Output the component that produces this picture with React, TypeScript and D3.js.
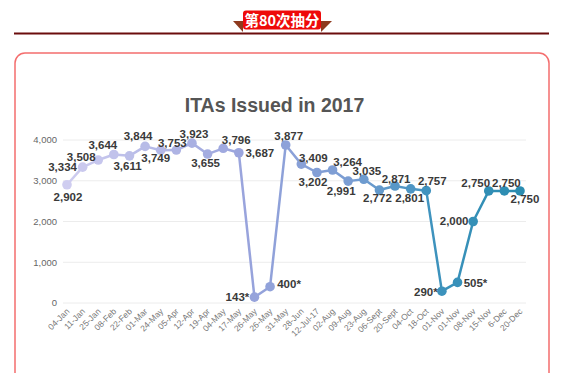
import React from 'react';
import * as d3 from 'd3';

// draw dates (x axis) and invitations issued
const dates = [
  '04-Jan', '11-Jan', '25-Jan', '08-Feb', '22-Feb', '01-Mar', '24-May', '05-Apr', '12-Apr', '19-Apr',
  '04-May', '17-May', '26-May', '26-May', '31-May', '28-Jun', '12-Jul-17', '02-Aug', '09-Aug', '23-Aug',
  '06-Sept', '20-Sept', '04-Oct', '18-Oct', '01-Nov', '01-Nov', '08-Nov', '15-Nov', '6-Dec', '20-Dec',
];
const itas = [
  2902, 3334, 3508, 3644, 3611, 3844, 3749, 3753, 3923, 3655,
  3796, 3687, 143, 400, 3877, 3409, 3202, 3264, 2991, 3035,
  2772, 2871, 2801, 2757, 290, 505, 2000, 2750, 2750, 2750,
];
// draws marked with * in the source
const starred = [12, 13, 24, 25];
const yTicks = [0, 1000, 2000, 3000, 4000];

// where each value label sits relative to its point
const labelOffsets = [
  [1, 12], [-20, 0], [-17, -3], [-11, -10], [-2, 10], [-7, -10], [-5, 8], [-4, -7], [2, -9], [-2, 9],
  [13, -8], [21, 0], [-17, 0], [19, -3], [3, -9], [12, -6], [-4, 9], [15, -8], [-7, 10], [3, -8],
  [-2, 8], [1, -7], [-1, 9], [6, -10], [-16, 1], [18, 1], [-19, -1], [-13, -8], [2, -8], [5, 8],
];

const gradStops = [
  [0, '#cfcdf0'],
  [0.4, '#98a3dc'],
  [0.62, '#7a9dd3'],
  [0.8, '#3f93be'],
  [1, '#2a8cb0'],
];

const font = '"Liberation Sans", Arial, sans-serif';

const App = () => {
  const x = d3.scaleLinear().domain([0, dates.length - 1]).range([67, 520]);
  const y = d3.scaleLinear().domain([0, 4000]).range([303, 140]);
  const fmt = d3.format(',');

  const colorAt = d3
    .scaleLinear<string>()
    .domain(gradStops.map(s => s[0] as number))
    .range(gradStops.map(s => s[1] as string))
    .interpolate(d3.interpolateRgb);

  const line = d3
    .line<number>()
    .x((d, i) => x(i))
    .y(d => y(d));

  return (
    <svg
      width={579}
      height={373}
      style={{ position: 'absolute', left: 0, top: 0, display: 'block', background: '#fff' }}
    >
      <defs>
        <linearGradient id="lineGrad" gradientUnits="userSpaceOnUse" x1={x(0)} x2={x(dates.length - 1)} y1={0} y2={0}>
          {gradStops.map((s, i) => (
            <stop key={i} offset={s[0] as number} stopColor={s[1] as string} />
          ))}
        </linearGradient>
      </defs>

      {/* header ribbon */}
      <rect x={14} y={32.5} width={535} height={2} fill="#6b0d0d" />
      <path d="M233,21 L243,21 L243,32 Z" fill="#8e3a1e" />
      <path d="M332,21 L321,21 L321,32 Z" fill="#8e3a1e" />
      <rect x={243} y={10.5} width={78} height={19} rx={3} fill="#ee0a0a" />
      <text
        x={282}
        y={26}
        textAnchor="middle"
        fill="#fff"
        fontSize={14.5}
        fontWeight="bold"
        fontFamily='"Noto Sans CJK SC", sans-serif'
      >
        第80次抽分
      </text>

      {/* card */}
      <rect x={15} y={53} width={534} height={340} rx={10} fill="#fff" stroke="#f46e6e" strokeWidth={1.5} />

      <text x={274.5} y={112} textAnchor="middle" fontSize={19.5} fontWeight="bold" fill="#555" fontFamily={font}>
        ITAs Issued in 2017
      </text>

      {/* grid + y axis */}
      {yTicks.map(t => (
        <g key={t}>
          <line x1={63} x2={526} y1={y(t)} y2={y(t)} stroke="#ececec" strokeWidth={1} />
          <text x={57} y={y(t)} dy="0.35em" textAnchor="end" fontSize={9.5} fill="#666" fontFamily={font}>
            {fmt(t)}
          </text>
        </g>
      ))}

      {/* x labels */}
      {dates.map((d, i) => (
        <text
          key={i}
          transform={`translate(${x(i) + 3},${y(0) + 9}) rotate(-45)`}
          textAnchor="end"
          fontSize={8.5}
          fill="#777"
          fontFamily={font}
        >
          {d}
        </text>
      ))}

      <path d={line(itas) || ''} fill="none" stroke="url(#lineGrad)" strokeWidth={2.5} strokeLinejoin="round" />

      {itas.map((v, i) => (
        <circle key={i} cx={x(i)} cy={y(v)} r={4.8} fill={colorAt(i / (itas.length - 1))} />
      ))}

      {itas.map((v, i) => (
        <text
          key={i}
          x={x(i) + labelOffsets[i][0]}
          y={y(v) + labelOffsets[i][1]}
          dy="0.35em"
          textAnchor="middle"
          fontSize={11.5}
          fontWeight="bold"
          fill="#3a3a3a"
          fontFamily={font}
        >
          {fmt(v) + (starred.includes(i) ? '*' : '')}
        </text>
      ))}
    </svg>
  );
};

export default App;
